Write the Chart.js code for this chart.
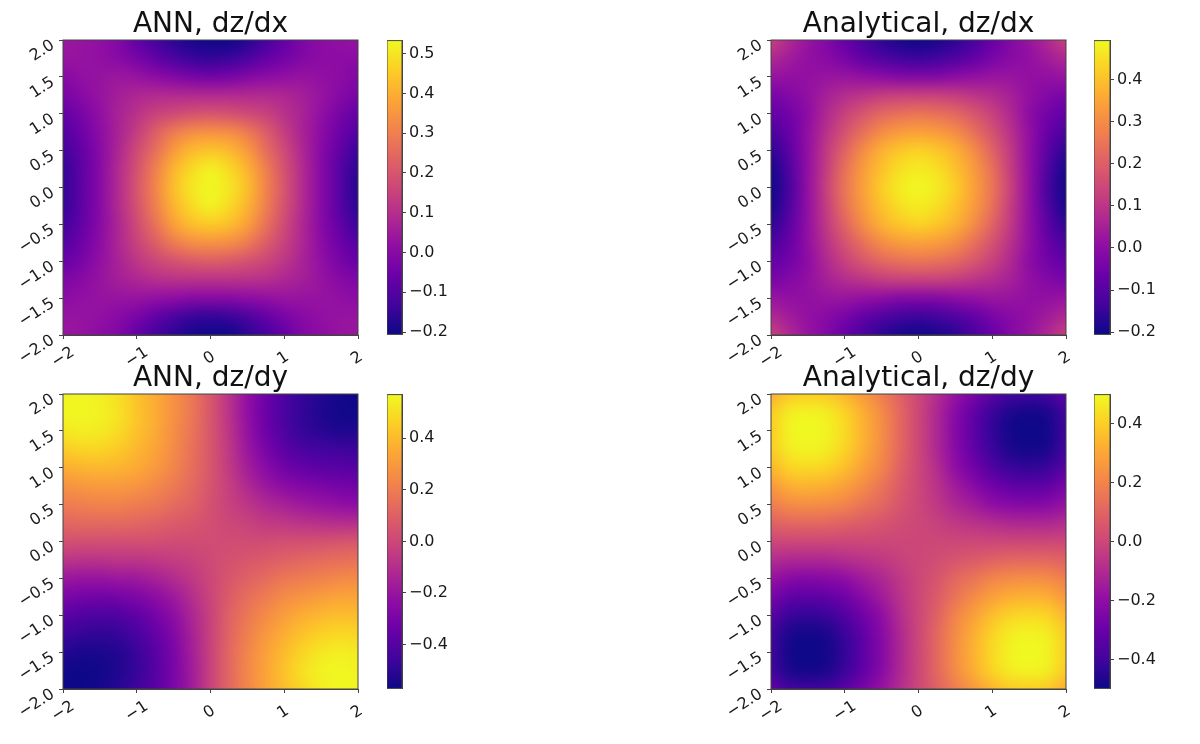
<!DOCTYPE html>
<html>
<head>
<meta charset="utf-8">
<title>ANN vs Analytical</title>
<script src="https://cdn.jsdelivr.net/npm/chart.js@4"></script>
<style>
  html, body { margin: 0; padding: 0; background: #fff; }
  #page { position: relative; width: 1200px; height: 744px; overflow: hidden; }
  canvas { position: absolute; }
</style>
</head>
<body>
<div id="page"></div>
<script>
// grid positions and tick labels
const gridX = [-2, -1.75, -1.5, -1.25, -1, -0.75, -0.5, -0.25, 0, 0.25, 0.5, 0.75, 1, 1.25, 1.5, 1.75, 2];
const gridY = [2, 1.75, 1.5, 1.25, 1, 0.75, 0.5, 0.25, 0, -0.25, -0.5, -0.75, -1, -1.25, -1.5, -1.75, -2];
const xTicks = [-2, -1, 0, 1, 2];
const yTicks = [-2, -1.5, -1, -0.5, 0, 0.5, 1, 1.5, 2];

// values, rows run from y=2 down to y=-2
const annDzDx = [
  [0.04, 0.03, 0.02, -0.01, -0.07, -0.12, -0.16, -0.19, -0.2, -0.2, -0.17, -0.12, -0.07, -0.02, 0.01, 0.02, 0.03],
  [0.03, 0.03, 0.02, 0, -0.03, -0.07, -0.11, -0.14, -0.15, -0.14, -0.11, -0.07, -0.04, -0.01, 0.01, 0.01, 0.01],
  [0, 0.02, 0.03, 0.04, 0.03, 0.01, -0.01, -0.03, -0.04, -0.03, -0.01, 0.01, 0.02, 0.03, 0.02, 0.01, -0.01],
  [-0.03, 0, 0.03, 0.06, 0.08, 0.09, 0.09, 0.09, 0.09, 0.09, 0.09, 0.09, 0.08, 0.06, 0.03, 0, -0.03],
  [-0.07, -0.03, 0.02, 0.07, 0.11, 0.15, 0.17, 0.19, 0.2, 0.19, 0.17, 0.15, 0.11, 0.07, 0.02, -0.03, -0.07],
  [-0.1, -0.05, 0.01, 0.07, 0.14, 0.22, 0.29, 0.33, 0.34, 0.33, 0.29, 0.22, 0.14, 0.07, 0.01, -0.05, -0.1],
  [-0.13, -0.07, 0, 0.08, 0.17, 0.26, 0.36, 0.42, 0.44, 0.42, 0.36, 0.26, 0.17, 0.08, 0, -0.07, -0.14],
  [-0.15, -0.08, 0, 0.09, 0.19, 0.3, 0.41, 0.48, 0.52, 0.48, 0.41, 0.3, 0.19, 0.09, 0, -0.09, -0.16],
  [-0.15, -0.08, 0, 0.09, 0.2, 0.31, 0.43, 0.5, 0.53, 0.5, 0.43, 0.31, 0.2, 0.09, 0, -0.09, -0.17],
  [-0.15, -0.08, 0, 0.09, 0.19, 0.3, 0.41, 0.48, 0.52, 0.48, 0.41, 0.3, 0.19, 0.09, 0, -0.09, -0.16],
  [-0.13, -0.07, 0, 0.08, 0.17, 0.27, 0.37, 0.43, 0.45, 0.43, 0.37, 0.27, 0.17, 0.08, 0, -0.07, -0.14],
  [-0.1, -0.05, 0.01, 0.08, 0.15, 0.22, 0.29, 0.33, 0.34, 0.33, 0.29, 0.22, 0.15, 0.08, 0.01, -0.05, -0.1],
  [-0.06, -0.03, 0.02, 0.07, 0.12, 0.16, 0.19, 0.21, 0.22, 0.21, 0.19, 0.16, 0.12, 0.07, 0.02, -0.03, -0.06],
  [-0.02, 0, 0.03, 0.06, 0.08, 0.1, 0.11, 0.11, 0.11, 0.11, 0.11, 0.1, 0.08, 0.06, 0.03, 0, -0.02],
  [0.01, 0.02, 0.03, 0.03, 0.03, 0.02, 0.01, 0, 0, 0, 0.01, 0.02, 0.03, 0.03, 0.03, 0.02, 0.01],
  [0.03, 0.03, 0.02, 0, -0.03, -0.07, -0.11, -0.14, -0.15, -0.14, -0.11, -0.07, -0.03, 0, 0.02, 0.03, 0.03],
  [0.04, 0.03, 0.01, -0.01, -0.07, -0.12, -0.16, -0.19, -0.2, -0.2, -0.16, -0.12, -0.07, -0.01, 0.01, 0.03, 0.04]
];

const analyticalDzDx = [
  [0.13, 0.07, 0.02, -0.02, -0.07, -0.12, -0.16, -0.19, -0.2, -0.19, -0.16, -0.12, -0.07, -0.02, 0.02, 0.07, 0.13],
  [0.07, 0.04, 0.01, -0.01, -0.04, -0.08, -0.11, -0.13, -0.14, -0.13, -0.11, -0.08, -0.04, -0.01, 0.01, 0.04, 0.07],
  [0.02, 0.01, 0.01, 0.02, 0.02, 0.01, 0, -0.02, -0.02, -0.02, 0, 0.01, 0.02, 0.02, 0.01, 0.01, 0.02],
  [-0.04, -0.02, 0.01, 0.05, 0.08, 0.1, 0.12, 0.13, 0.13, 0.13, 0.12, 0.1, 0.08, 0.05, 0.01, -0.02, -0.04],
  [-0.08, -0.05, 0, 0.07, 0.13, 0.18, 0.22, 0.24, 0.25, 0.24, 0.22, 0.18, 0.13, 0.07, 0, -0.05, -0.08],
  [-0.12, -0.07, 0.01, 0.09, 0.17, 0.24, 0.3, 0.33, 0.34, 0.33, 0.3, 0.24, 0.17, 0.09, 0.01, -0.07, -0.12],
  [-0.16, -0.09, 0.01, 0.11, 0.21, 0.3, 0.37, 0.41, 0.43, 0.41, 0.37, 0.3, 0.21, 0.11, 0.01, -0.09, -0.16],
  [-0.19, -0.11, 0.01, 0.12, 0.24, 0.33, 0.4, 0.45, 0.47, 0.45, 0.4, 0.33, 0.24, 0.12, 0.01, -0.11, -0.19],
  [-0.2, -0.12, 0.01, 0.13, 0.25, 0.34, 0.42, 0.47, 0.49, 0.47, 0.42, 0.34, 0.25, 0.13, 0.01, -0.12, -0.2],
  [-0.19, -0.11, 0.01, 0.12, 0.24, 0.33, 0.4, 0.45, 0.47, 0.45, 0.4, 0.33, 0.24, 0.12, 0.01, -0.11, -0.19],
  [-0.16, -0.09, 0.01, 0.11, 0.21, 0.3, 0.37, 0.41, 0.43, 0.41, 0.37, 0.3, 0.21, 0.11, 0.01, -0.09, -0.16],
  [-0.12, -0.07, 0.01, 0.09, 0.17, 0.24, 0.3, 0.33, 0.34, 0.33, 0.3, 0.24, 0.17, 0.09, 0.01, -0.07, -0.12],
  [-0.08, -0.05, 0, 0.07, 0.13, 0.18, 0.22, 0.24, 0.25, 0.24, 0.22, 0.18, 0.13, 0.07, 0, -0.05, -0.08],
  [-0.04, -0.02, 0.01, 0.05, 0.08, 0.1, 0.12, 0.13, 0.13, 0.13, 0.12, 0.1, 0.08, 0.05, 0.01, -0.02, -0.04],
  [0.02, 0.01, 0.01, 0.02, 0.02, 0.01, 0, -0.02, -0.02, -0.02, 0, 0.01, 0.02, 0.02, 0.01, 0.01, 0.02],
  [0.07, 0.04, 0.01, -0.01, -0.04, -0.08, -0.11, -0.13, -0.14, -0.13, -0.11, -0.08, -0.04, -0.01, 0.01, 0.04, 0.07],
  [0.13, 0.07, 0.02, -0.02, -0.07, -0.12, -0.16, -0.19, -0.2, -0.19, -0.16, -0.12, -0.07, -0.02, 0.02, 0.07, 0.13]
];

const annDzDy = [
  [0.55, 0.56, 0.54, 0.5, 0.42, 0.35, 0.27, 0.18, 0.06, -0.08, -0.22, -0.33, -0.42, -0.48, -0.52, -0.55, -0.57],
  [0.56, 0.56, 0.55, 0.51, 0.43, 0.36, 0.27, 0.18, 0.06, -0.08, -0.22, -0.34, -0.43, -0.49, -0.53, -0.56, -0.56],
  [0.52, 0.54, 0.53, 0.49, 0.42, 0.35, 0.26, 0.17, 0.06, -0.07, -0.21, -0.33, -0.42, -0.48, -0.51, -0.53, -0.53],
  [0.45, 0.47, 0.47, 0.44, 0.39, 0.33, 0.25, 0.16, 0.06, -0.06, -0.19, -0.3, -0.38, -0.43, -0.45, -0.46, -0.47],
  [0.36, 0.38, 0.39, 0.38, 0.35, 0.3, 0.23, 0.15, 0.06, -0.05, -0.16, -0.25, -0.32, -0.36, -0.38, -0.39, -0.4],
  [0.27, 0.29, 0.3, 0.3, 0.28, 0.24, 0.19, 0.13, 0.05, -0.03, -0.12, -0.19, -0.24, -0.27, -0.29, -0.31, -0.32],
  [0.2, 0.21, 0.22, 0.22, 0.2, 0.18, 0.14, 0.1, 0.04, -0.02, -0.07, -0.12, -0.15, -0.18, -0.2, -0.22, -0.23],
  [0.12, 0.13, 0.13, 0.13, 0.12, 0.1, 0.08, 0.06, 0.03, 0, -0.02, -0.05, -0.06, -0.08, -0.09, -0.1, -0.1],
  [0.04, 0.03, 0.03, 0.03, 0.03, 0.03, 0.02, 0.02, 0.02, 0.02, 0.02, 0.02, 0.03, 0.03, 0.04, 0.05, 0.06],
  [-0.07, -0.08, -0.08, -0.07, -0.07, -0.06, -0.04, -0.02, 0.01, 0.04, 0.06, 0.08, 0.1, 0.12, 0.14, 0.15, 0.16],
  [-0.19, -0.2, -0.2, -0.19, -0.18, -0.15, -0.11, -0.06, 0, 0.06, 0.1, 0.14, 0.18, 0.2, 0.22, 0.24, 0.25],
  [-0.29, -0.31, -0.32, -0.31, -0.28, -0.24, -0.18, -0.1, -0.01, 0.08, 0.15, 0.2, 0.25, 0.28, 0.31, 0.33, 0.33],
  [-0.38, -0.41, -0.42, -0.41, -0.37, -0.31, -0.23, -0.13, -0.02, 0.1, 0.18, 0.25, 0.31, 0.36, 0.39, 0.41, 0.4],
  [-0.46, -0.48, -0.49, -0.48, -0.43, -0.36, -0.27, -0.15, -0.02, 0.11, 0.21, 0.29, 0.36, 0.42, 0.46, 0.48, 0.47],
  [-0.52, -0.54, -0.54, -0.52, -0.47, -0.39, -0.29, -0.16, -0.02, 0.12, 0.23, 0.32, 0.4, 0.47, 0.52, 0.54, 0.53],
  [-0.56, -0.57, -0.56, -0.53, -0.48, -0.4, -0.3, -0.17, -0.02, 0.12, 0.24, 0.33, 0.42, 0.5, 0.55, 0.56, 0.55],
  [-0.57, -0.57, -0.55, -0.51, -0.46, -0.39, -0.29, -0.17, -0.02, 0.12, 0.23, 0.33, 0.41, 0.48, 0.54, 0.56, 0.56]
];

const analyticalDzDy = [
  [0.32, 0.39, 0.4, 0.39, 0.34, 0.26, 0.18, 0.09, 0, -0.09, -0.18, -0.26, -0.34, -0.39, -0.4, -0.39, -0.32],
  [0.39, 0.47, 0.485, 0.47, 0.41, 0.32, 0.22, 0.11, 0, -0.11, -0.22, -0.32, -0.41, -0.47, -0.485, -0.47, -0.39],
  [0.4, 0.485, 0.5, 0.485, 0.425, 0.33, 0.23, 0.11, 0, -0.11, -0.23, -0.33, -0.425, -0.485, -0.5, -0.485, -0.4],
  [0.39, 0.47, 0.485, 0.47, 0.41, 0.32, 0.22, 0.11, 0, -0.11, -0.22, -0.32, -0.41, -0.47, -0.485, -0.47, -0.39],
  [0.34, 0.41, 0.425, 0.41, 0.36, 0.28, 0.2, 0.09, 0, -0.09, -0.2, -0.28, -0.36, -0.41, -0.425, -0.41, -0.34],
  [0.26, 0.32, 0.33, 0.32, 0.28, 0.22, 0.15, 0.07, 0, -0.07, -0.15, -0.22, -0.28, -0.32, -0.33, -0.32, -0.26],
  [0.18, 0.22, 0.23, 0.22, 0.2, 0.15, 0.11, 0.05, 0, -0.05, -0.11, -0.15, -0.2, -0.22, -0.23, -0.22, -0.18],
  [0.09, 0.11, 0.11, 0.11, 0.09, 0.07, 0.05, 0.02, 0, -0.02, -0.05, -0.07, -0.09, -0.11, -0.11, -0.11, -0.09],
  [0, 0, 0, 0, 0, 0, 0, 0, 0, 0, 0, 0, 0, 0, 0, 0, 0],
  [-0.09, -0.11, -0.11, -0.11, -0.09, -0.07, -0.05, -0.02, 0, 0.02, 0.05, 0.07, 0.09, 0.11, 0.11, 0.11, 0.09],
  [-0.18, -0.22, -0.23, -0.22, -0.2, -0.15, -0.11, -0.05, 0, 0.05, 0.11, 0.15, 0.2, 0.22, 0.23, 0.22, 0.18],
  [-0.26, -0.32, -0.33, -0.32, -0.28, -0.22, -0.15, -0.07, 0, 0.07, 0.15, 0.22, 0.28, 0.32, 0.33, 0.32, 0.26],
  [-0.34, -0.41, -0.425, -0.41, -0.36, -0.28, -0.2, -0.09, 0, 0.09, 0.2, 0.28, 0.36, 0.41, 0.425, 0.41, 0.34],
  [-0.39, -0.47, -0.485, -0.47, -0.41, -0.32, -0.22, -0.11, 0, 0.11, 0.22, 0.32, 0.41, 0.47, 0.485, 0.47, 0.39],
  [-0.4, -0.485, -0.5, -0.485, -0.425, -0.33, -0.23, -0.11, 0, 0.11, 0.23, 0.33, 0.425, 0.485, 0.5, 0.485, 0.4],
  [-0.39, -0.47, -0.485, -0.47, -0.41, -0.32, -0.22, -0.11, 0, 0.11, 0.22, 0.32, 0.41, 0.47, 0.485, 0.47, 0.39],
  [-0.32, -0.39, -0.4, -0.39, -0.34, -0.26, -0.18, -0.09, 0, 0.09, 0.18, 0.26, 0.34, 0.39, 0.4, 0.39, 0.32]
];

// colour bar ranges and ticks
const range1 = [-0.206, 0.533];
const range2 = [-0.2055, 0.493];
const range3 = [-0.57, 0.569];
const range4 = [-0.498, 0.499];
const barTicks1 = [-0.2, -0.1, 0, 0.1, 0.2, 0.3, 0.4, 0.5];
const barTicks2 = [-0.2, -0.1, 0, 0.1, 0.2, 0.3, 0.4];
const barTicks3 = [-0.4, -0.2, 0, 0.2, 0.4];
const barTicks4 = [-0.4, -0.2, 0, 0.2, 0.4];

// plasma colormap, 11 stops
const plasma = ["#0d0887", "#41049d", "#6a00a8", "#8f0da4", "#b12a90", "#cc4778", "#e16462", "#f2844b", "#fca636", "#fcce25", "#f0f921"];

Chart.defaults.font.family = "'DejaVu Sans', sans-serif";
Chart.defaults.font.size = 16;
Chart.defaults.color = "#1a1a1a";

const INK = "#444";
const page = document.getElementById("page");

function addCanvas(left, top, width, height) {
  const c = document.createElement("canvas");
  c.width = width;
  c.height = height;
  c.style.left = left + "px";
  c.style.top = top + "px";
  c.style.width = width + "px";
  c.style.height = height + "px";
  page.appendChild(c);
  return c;
}

function hexRgb(h) {
  return [parseInt(h.slice(1, 3), 16), parseInt(h.slice(3, 5), 16), parseInt(h.slice(5, 7), 16)];
}

// colour lookup for one value
function plasmaAt(v, range) {
  let t = (v - range[0]) / (range[1] - range[0]);
  t = Math.max(0, Math.min(1, t)) * (plasma.length - 1);
  const i = Math.min(Math.floor(t), plasma.length - 2);
  const a = hexRgb(plasma[i]);
  const b = hexRgb(plasma[i + 1]);
  const f = t - i;
  return [0, 1, 2].map((k) => a[k] + (b[k] - a[k]) * f);
}

function tickText(value, digits) {
  return value.toFixed(digits).replace("-", "\u2212");
}

// rotated x labels are anchored at their end, trailing space keeps short ones centred like the reference
function xTickText(value) {
  return value < 0 ? tickText(value, 0) : tickText(value, 0) + "\u2002";
}

// paints the scatter points as one smooth image, placed by the chart's scales
const heatPlugin = {
  id: "heat",
  beforeDatasetsDraw(chart) {
    const ds = chart.data.datasets[0];
    const n = gridX.length;
    const off = document.createElement("canvas");
    off.width = n;
    off.height = gridY.length;
    const octx = off.getContext("2d");
    const img = octx.createImageData(n, gridY.length);
    ds.data.forEach((p, i) => {
      const rgb = plasmaAt(p.v, ds.range);
      img.data[i * 4] = rgb[0];
      img.data[i * 4 + 1] = rgb[1];
      img.data[i * 4 + 2] = rgb[2];
      img.data[i * 4 + 3] = 255;
    });
    octx.putImageData(img, 0, 0);

    const sx = chart.scales.x;
    const sy = chart.scales.y;
    const half = (gridX[1] - gridX[0]) / 2;
    const x0 = sx.getPixelForValue(gridX[0] - half);
    const x1 = sx.getPixelForValue(gridX[n - 1] + half);
    const y0 = sy.getPixelForValue(gridY[0] + half);
    const y1 = sy.getPixelForValue(gridY[gridY.length - 1] - half);
    const a = chart.chartArea;
    const ctx = chart.ctx;
    ctx.save();
    ctx.beginPath();
    ctx.rect(a.left, a.top, a.right - a.left, a.bottom - a.top);
    ctx.clip();
    ctx.imageSmoothingEnabled = true;
    ctx.imageSmoothingQuality = "high";
    ctx.drawImage(off, x0, y0, x1 - x0, y1 - y0);
    ctx.restore();
  },
};

// box round the plot area
const framePlugin = {
  id: "frame",
  afterDatasetsDraw(chart) {
    const a = chart.chartArea;
    const ctx = chart.ctx;
    ctx.save();
    ctx.strokeStyle = INK;
    ctx.lineWidth = 1;
    ctx.strokeRect(a.left, a.top, a.right - a.left, a.bottom - a.top);
    ctx.restore();
  },
};

function drawHeat(left, top, titleText, rows, range) {
  const points = [];
  gridY.forEach((y, r) => {
    gridX.forEach((x, c) => {
      points.push({ x: x, y: y, v: rows[r][c] });
    });
  });
  const canvas = addCanvas(left - 63, top - 29, 63 + 295 + 24, 29 + 295 + 50);
  return new Chart(canvas.getContext("2d"), {
    type: "scatter",
    data: { datasets: [{ data: points, range: range, pointRadius: 0 }] },
    options: {
      responsive: false,
      animation: false,
      events: [],
      layout: { padding: { right: 24, top: 0, left: 0, bottom: 0 } },
      plugins: {
        legend: { display: false },
        tooltip: { enabled: false },
        title: {
          display: true,
          fullSize: false,
          text: titleText,
          color: "#111",
          font: { size: 28, weight: "normal", lineHeight: 1 },
          padding: { top: 0, bottom: 1 },
        },
      },
      scales: {
        x: {
          type: "linear",
          min: -2,
          max: 2,
          afterBuildTicks(s) { s.ticks = xTicks.map((v) => ({ value: v })); },
          afterFit(s) { s.height = 50; },
          grid: { drawOnChartArea: false, color: INK, tickLength: 4 },
          border: { color: INK },
          ticks: {
            minRotation: 33,
            maxRotation: 33,
            padding: 4,
            labelOffset: 10,
            autoSkip: false,
            callback: (v) => xTickText(v),
          },
        },
        y: {
          type: "linear",
          min: -2,
          max: 2,
          afterBuildTicks(s) { s.ticks = yTicks.map((v) => ({ value: v })); },
          afterFit(s) { s.width = 63; },
          grid: { drawOnChartArea: false, color: INK, tickLength: 4 },
          border: { color: INK },
          ticks: {
            minRotation: 33,
            maxRotation: 33,
            padding: 6,
            labelOffset: 4,
            autoSkip: false,
            callback: (v) => tickText(v, 1),
          },
        },
      },
    },
    plugins: [heatPlugin, framePlugin],
  });
}

function drawBar(left, top, barWidth, range, barTicks) {
  const canvas = addCanvas(left, top - 12, barWidth + 70, 295 + 24);
  return new Chart(canvas.getContext("2d"), {
    type: "bar",
    data: {
      labels: ["colorbar"],
      datasets: [{
        data: [range],
        barPercentage: 1,
        categoryPercentage: 1,
        backgroundColor(ctx) {
          const a = ctx.chart.chartArea;
          if (!a) return plasma[0];
          const g = ctx.chart.ctx.createLinearGradient(0, a.bottom, 0, a.top);
          plasma.forEach((c, i) => g.addColorStop(i / (plasma.length - 1), c));
          return g;
        },
      }],
    },
    options: {
      responsive: false,
      animation: false,
      events: [],
      layout: { padding: { top: 12, bottom: 12, left: 0, right: 0 } },
      plugins: { legend: { display: false }, tooltip: { enabled: false }, title: { display: false } },
      scales: {
        x: { display: false },
        y: {
          position: "right",
          min: range[0],
          max: range[1],
          afterBuildTicks(s) { s.ticks = barTicks.map((v) => ({ value: v })); },
          afterFit(s) { s.width = 70; },
          grid: { drawOnChartArea: false, color: INK, tickLength: 4 },
          border: { color: INK },
          ticks: { padding: 3, autoSkip: false, callback: (v) => tickText(v, 1) },
        },
      },
    },
    plugins: [framePlugin],
  });
}

drawHeat(63, 40, "ANN, dz/dx", annDzDx, range1);
drawBar(387, 40, 15, range1, barTicks1);
drawHeat(771, 40, "Analytical, dz/dx", analyticalDzDx, range2);
drawBar(1094, 40, 16, range2, barTicks2);
drawHeat(63, 394, "ANN, dz/dy", annDzDy, range3);
drawBar(387, 394, 15, range3, barTicks3);
drawHeat(771, 394, "Analytical, dz/dy", analyticalDzDy, range4);
drawBar(1094, 394, 16, range4, barTicks4);
</script>
</body>
</html>
